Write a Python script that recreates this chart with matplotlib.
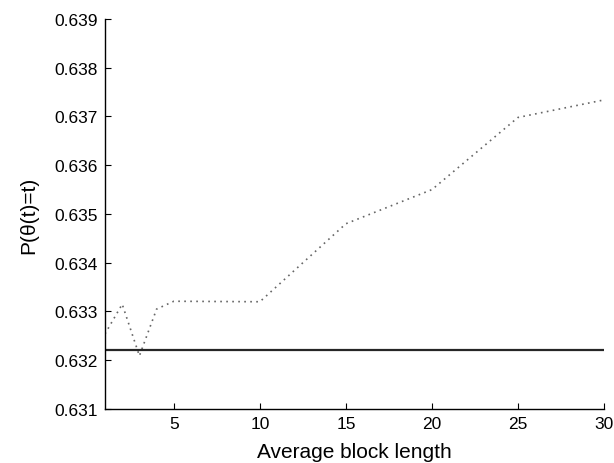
import matplotlib
matplotlib.use("Agg")
import matplotlib.pyplot as plt

# values
block_len = [1, 2, 3, 4, 5, 10, 15, 20, 25, 30]
p_block = [0.63254, 0.63315, 0.63209, 0.63305, 0.63321, 0.63320,
           0.63480, 0.63550, 0.63698, 0.63734]
p_base = 0.63221

plt.rcParams["font.family"] = ["Liberation Sans", "DejaVu Sans"]

fig = plt.figure(figsize=(6.14, 4.64), dpi=100)
ax = fig.add_axes([0.171, 0.1164, 0.8127, 0.8405])

ax.plot(block_len, p_block, color="0.4", lw=1.2, linestyle=(0, (1, 2.6)))
ax.axhline(p_base, color="0.15", lw=1.6)

ax.set_xlim(1, 30)
ax.set_ylim(0.631, 0.639)
ax.set_xticks([5, 10, 15, 20, 25, 30])
ax.set_yticks([0.631 + 0.001 * i for i in range(9)])
ax.set_yticklabels([f"{0.631 + 0.001 * i:.3f}" for i in range(9)])

for side in ("top", "right"):
    ax.spines[side].set_visible(False)
for side in ("left", "bottom"):
    ax.spines[side].set_linewidth(1.0)
ax.tick_params(direction="in", length=4, width=0.8, labelsize=12.5, pad=5)

ax.set_xlabel("Average block length", fontsize=15, labelpad=8)
ax.set_ylabel("P(θ(t)=t)", fontsize=15, labelpad=12)

fig.savefig("out.png", dpi=100)
